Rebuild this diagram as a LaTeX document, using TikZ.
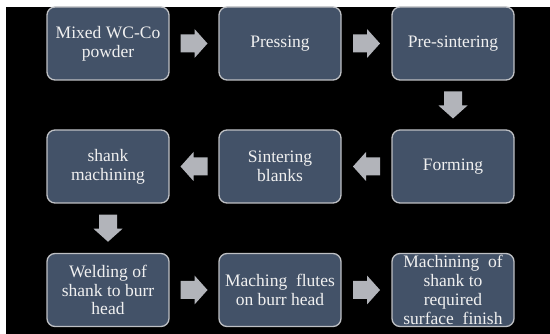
\documentclass[tikz,border=0pt]{standalone}
\usepackage{fontspec}
\setmainfont{Liberation Serif}
\usetikzlibrary{calc}
\definecolor{boxfill}{RGB}{67,82,104}
\definecolor{boxline}{RGB}{190,192,196}
\definecolor{arrowgray}{RGB}{178,180,186}
\definecolor{txt}{RGB}{240,240,240}
\tikzset{
  stepbox/.style={draw=boxline, line width=1.3pt, fill=boxfill, rounded corners=8pt,
    minimum width=122pt, minimum height=73pt, inner sep=0pt, align=center,
    text=txt, font=\fontsize{17.5}{18.8}\selectfont},
  blockarrow/.pic={\fill[arrowgray] (-13.5,-9) -- (0.5,-9) -- (0.5,-14.5) -- (13.5,0)
    -- (0.5,14.5) -- (0.5,9) -- (-13.5,9) -- cycle;}
}
\begin{document}
\begin{tikzpicture}[x=1pt,y=-1pt]
\useasboundingbox (0,0) rectangle (550,334);
\fill[white] (0,0) rectangle (550,334);
\fill[black] (6,7) rectangle (550,334);
\node[stepbox] (a) at (108,43.5) {Mixed WC-Co\\powder};
\node[stepbox] (b) at (280,43.5) {Pressing};
\node[stepbox] (c) at (453,43.5) {Pre-sintering};
\node[stepbox] (d) at (453,166.5) {Forming};
\node[stepbox] (e) at (280,166.5) {Sintering\\blanks};
\node[stepbox] (f) at (108,166.5) {shank\\machining};
\node[stepbox] (g) at (108,290) {Welding of\\shank to burr\\head};
\node[stepbox] (h) at (280,290) {Maching\ \ flutes\\on burr head};
\node[stepbox] (i) at (453,290) {Machining\ \ of\\shank to\\required\\surface\ \ finish};
\path ($(a.east)!0.5!(b.west)$) pic {blockarrow};
\path ($(b.east)!0.5!(c.west)$) pic {blockarrow};
\path ($(c.south)!0.5!(d.north)$) pic[rotate=-90] {blockarrow};
\path ($(d.west)!0.5!(e.east)$) pic[rotate=180] {blockarrow};
\path ($(e.west)!0.5!(f.east)$) pic[rotate=180] {blockarrow};
\path ($(f.south)!0.5!(g.north)$) pic[rotate=-90] {blockarrow};
\path ($(g.east)!0.5!(h.west)$) pic {blockarrow};
\path ($(h.east)!0.5!(i.west)$) pic {blockarrow};
\end{tikzpicture}
\end{document}
